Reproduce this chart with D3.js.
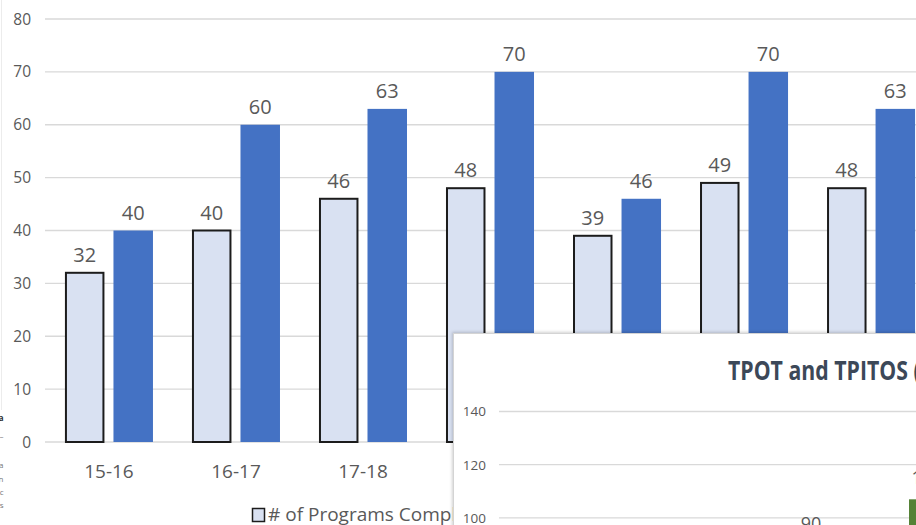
<!DOCTYPE html>
<html>
<head>
<meta charset="utf-8">
<script src="https://cdn.jsdelivr.net/npm/d3@7"></script>
<style>
  html, body { margin: 0; padding: 0; background: #fff; overflow: hidden; }
  svg { display: block; font-family: "Open Sans", "Noto Sans", sans-serif; }
</style>
</head>
<body>
<svg id="chart" width="916" height="525"></svg>
<script>
// Program counts by school year
const categories = ["15-16", "16-17", "17-18", "18-19", "19-20", "20-21", "21-22"];
const seriesNames = ["# of Programs Completing", "# of Programs Participating"];
const programsCompleting = [32, 40, 46, 48, 39, 49, 48];
const programsParticipating = [40, 60, 63, 70, 46, 70, 63];
const yTicks = [0, 10, 20, 30, 40, 50, 60, 70, 80];

// Overlapping panel: TPOT and TPITOS totals
const insetTitle = "TPOT and TPITOS (Observations)";
const insetCategories = ["20-21", "21-22"];
const insetValues = [90, 107];
const insetTicks = [0, 20, 40, 60, 80, 100, 120, 140];

// Text fragments at the left margin
const marginLetters = [
  { t: "a", y: 421, w: "bold" }, { t: "–", y: 439, w: "normal" },
  { t: "a", y: 468, w: "normal" }, { t: "n", y: 482, w: "normal" },
  { t: "c", y: 495, w: "normal" }, { t: "s", y: 508, w: "normal" }
];

const W = 916, H = 525;
const textColor = "#595959";
const gridColor = "#d9d9d9";
const lightFill = "#D9E1F2";
const darkFill = "#4472C4";

const svg = d3.select("#chart");
svg.append("rect").attr("width", W).attr("height", H).attr("fill", "#fff");

// ---------- main clustered column chart ----------
const main = svg.append("g");
const y = d3.scaleLinear().domain([0, 80]).range([442, 19]);
const x0 = d3.scaleBand().domain(categories).range([45, 935])
  .paddingInner(0.307).paddingOuter(0.157);
const x1 = d3.scaleBand().domain([0, 1]).range([0, x0.bandwidth()]).paddingInner(0.186);

// faint frame line at the left edge
main.append("line").attr("x1", 1.5).attr("x2", 1.5).attr("y1", 0).attr("y2", 410)
  .attr("stroke", "#ececec").attr("stroke-width", 1);

main.append("g").selectAll("line").data(yTicks).join("line")
  .attr("x1", 45).attr("x2", W)
  .attr("y1", d => y(d)).attr("y2", d => y(d))
  .attr("stroke", gridColor).attr("stroke-width", 1.3);

main.append("g").selectAll("text").data(yTicks).join("text")
  .attr("x", 31).attr("y", d => y(d)).attr("dy", "0.36em")
  .attr("text-anchor", "end").attr("font-size", 15.5).attr("fill", textColor)
  .text(d => d);

const rows = categories.map((c, i) => ({ c, vals: [programsCompleting[i], programsParticipating[i]] }));
const groups = main.append("g").selectAll("g").data(rows).join("g")
  .attr("transform", d => `translate(${x0(d.c)},0)`);

// outlined light bars
groups.append("rect")
  .attr("x", x1(0) + 1).attr("width", x1.bandwidth() - 2)
  .attr("y", d => y(d.vals[0])).attr("height", d => y(0) - y(d.vals[0]))
  .attr("fill", lightFill).attr("stroke", "#1c1c1c").attr("stroke-width", 2);

// solid blue bars
groups.append("rect")
  .attr("x", x1(1)).attr("width", x1.bandwidth())
  .attr("y", d => y(d.vals[1])).attr("height", d => y(0) - y(d.vals[1]))
  .attr("fill", darkFill);

// value labels
[0, 1].forEach(s => {
  groups.append("text")
    .attr("x", x1(s) + x1.bandwidth() / 2)
    .attr("y", d => y(d.vals[s]) - 11)
    .attr("text-anchor", "middle").attr("font-size", 20).attr("fill", textColor)
    .text(d => d.vals[s]);
});

// category labels
main.append("g").selectAll("text").data(categories).join("text")
  .attr("x", d => x0(d) + x0.bandwidth() / 2).attr("y", 478)
  .attr("text-anchor", "middle").attr("font-size", 19).attr("fill", textColor)
  .text(d => d);

// legend
const legend = main.append("g");
const legendX = [252, 560];
seriesNames.forEach((name, i) => {
  legend.append("rect")
    .attr("x", legendX[i] + 0.5).attr("y", 508.5).attr("width", 12).attr("height", 13)
    .attr("fill", i === 0 ? lightFill : darkFill)
    .attr("stroke", i === 0 ? "#1c1c1c" : "none").attr("stroke-width", 1.5);
  legend.append("text")
    .attr("x", legendX[i] + 16).attr("y", 521)
    .attr("font-size", 19).attr("fill", textColor)
    .text(name);
});

// margin fragments
main.append("g").selectAll("text").data(marginLetters).join("text")
  .attr("x", 3.5).attr("y", d => d.y).attr("text-anchor", "end")
  .attr("font-size", 8).attr("font-weight", d => d.w)
  .attr("fill", d => d.w === "bold" ? "#333" : "#777")
  .text(d => d.t);

// ---------- overlapping panel ----------
const defs = svg.append("defs");
const f = defs.append("filter").attr("id", "shadow")
  .attr("x", "-5%").attr("y", "-5%").attr("width", "110%").attr("height", "110%");
f.append("feDropShadow").attr("dx", -1).attr("dy", -1).attr("stdDeviation", 1.5)
  .attr("flood-color", "#000").attr("flood-opacity", 0.18);

const inset = svg.append("g");
inset.append("rect")
  .attr("x", 453.5).attr("y", 333.5).attr("width", 520).attr("height", 300)
  .attr("fill", "#fff").attr("stroke", "#d4d4d4").attr("stroke-width", 1)
  .attr("filter", "url(#shadow)");

const iy = d3.scaleLinear().domain([0, 140]).range([784, 411.5]);
const ix = d3.scaleBand().domain(insetCategories).range([713, 1025])
  .paddingInner(0.69).paddingOuter(0.69);

inset.append("g").selectAll("line").data(insetTicks).join("line")
  .attr("x1", 499).attr("x2", W)
  .attr("y1", d => iy(d)).attr("y2", d => iy(d))
  .attr("stroke", gridColor).attr("stroke-width", 1.3);

inset.append("g").selectAll("text").data(insetTicks).join("text")
  .attr("x", 486).attr("y", d => iy(d)).attr("dy", "0.36em")
  .attr("text-anchor", "end").attr("font-size", 13.5).attr("fill", textColor)
  .text(d => d);

const ibars = inset.append("g").selectAll("g").data(insetCategories.map((c, i) => ({ c, v: insetValues[i] })))
  .join("g");
ibars.append("rect")
  .attr("x", d => ix(d.c)).attr("width", ix.bandwidth())
  .attr("y", d => iy(d.v)).attr("height", d => iy(0) - iy(d.v))
  .attr("fill", "#548235");
ibars.append("text")
  .attr("x", d => ix(d.c) + ix.bandwidth() / 2).attr("y", d => iy(d.v) - 15)
  .attr("text-anchor", "middle").attr("font-size", 18).attr("fill", textColor)
  .text(d => d.v);

// bold, condensed panel title
const titleG = inset.append("g");
const probe = titleG.append("text").attr("font-size", 27).attr("font-weight", "bold")
  .text("TPOT and TPITOS");
const probeW = probe.node().getComputedTextLength();
probe.remove();
const sx = 180 / probeW;
titleG.attr("transform", `translate(728,380) scale(${sx},1)`);
titleG.append("text").attr("x", 0).attr("y", 0)
  .attr("font-size", 27).attr("font-weight", "bold").attr("fill", "#3C4858")
  .text(insetTitle);
</script>
</body>
</html>
